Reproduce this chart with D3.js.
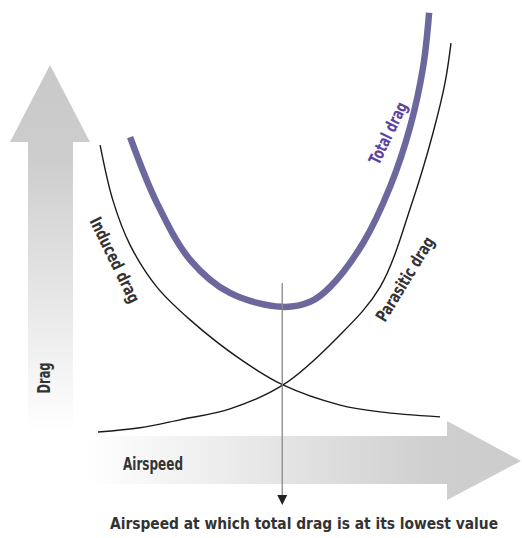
<!DOCTYPE html>
<html>
<head>
<meta charset="utf-8">
<script src="https://cdn.jsdelivr.net/npm/d3@7"></script>
<style>
  html, body { margin: 0; padding: 0; background: #fff; }
  svg { display: block; }
  text { font-family: "Liberation Sans Narrow", "DejaVu Sans Condensed", "Arial Narrow", sans-serif; font-weight: bold; }
</style>
</head>
<body>
<svg id="chart" width="522" height="538"></svg>
<script>
// ---- data (airspeed 0-100, drag 0-100, arbitrary units) ----
const inducedSpeed   = [0.6, 4.2, 9.1, 16.7, 26.1, 40.2, 52.4, 68.6, 79.9, 96.9];
const inducedDrag    = [68.3, 55.2, 44.5, 34.5, 26.7, 17.4, 11.2, 6.4, 4.8, 3.6];
const parasiticSpeed = [0, 11.9, 23.2, 37.4, 52.4, 67.7, 79.9, 89.2, 94.9, 98.3, 100];
const parasiticDrag  = [0, 1.0, 2.9, 5.5, 11.2, 22.4, 34.5, 55.2, 71.2, 83.1, 92.6];
const totalSpeed     = [9.1, 16.7, 26.1, 37.4, 52.1, 60.1, 65.7, 75.1, 82.7, 88.4, 92.1, 93.8];
const totalDrag      = [70.2, 54.5, 41.0, 33.1, 29.8, 31.0, 34.5, 45.0, 58.3, 72.6, 86.9, 99.8];
const minDragSpeed   = 52.2;
const minDragValue   = 35.5;
const labels = {
  x: "Airspeed",
  y: "Drag",
  induced: "Induced drag",
  parasitic: "Parasitic drag",
  total: "Total drag",
  min: "Airspeed at which total drag is at its lowest value"
};

const svg = d3.select("#chart");
const x = d3.scaleLinear().domain([0, 100]).range([98, 451]);
const y = d3.scaleLinear().domain([0, 100]).range([432, 12]);

const defs = svg.append("defs");
const gv = defs.append("linearGradient").attr("id", "gv")
  .attr("x1", 0).attr("y1", 0).attr("x2", 0).attr("y2", 1);
gv.append("stop").attr("offset", "0%").attr("stop-color", "#c9c9c9");
gv.append("stop").attr("offset", "25%").attr("stop-color", "#cdcdcd");
gv.append("stop").attr("offset", "100%").attr("stop-color", "#ffffff");
const gh = defs.append("linearGradient").attr("id", "gh")
  .attr("x1", 0).attr("y1", 0).attr("x2", 1).attr("y2", 0);
gh.append("stop").attr("offset", "0%").attr("stop-color", "#ffffff");
gh.append("stop").attr("offset", "80%").attr("stop-color", "#cfcfcf");
gh.append("stop").attr("offset", "100%").attr("stop-color", "#cccccc");

// vertical "Drag" arrow
svg.append("path")
  .attr("d", "M50,65 L90,142 L73,142 L73,432 L28,432 L28,142 L10,142 Z")
  .attr("fill", "url(#gv)");
// horizontal "Airspeed" arrow
svg.append("path")
  .attr("d", "M88,436 L447,436 L447,421 L521,461 L447,500 L447,484 L88,484 Z")
  .attr("fill", "url(#gh)");

const line = d3.line().x(d => x(d[0])).y(d => y(d[1])).curve(d3.curveCatmullRom.alpha(0.5));

svg.append("path").datum(d3.zip(inducedSpeed, inducedDrag))
  .attr("d", line).attr("fill", "none").attr("stroke", "#1a1a1a").attr("stroke-width", 1.4);
svg.append("path").datum(d3.zip(parasiticSpeed, parasiticDrag))
  .attr("d", line).attr("fill", "none").attr("stroke", "#1a1a1a").attr("stroke-width", 1.4);
svg.append("path").datum(d3.zip(totalSpeed, totalDrag))
  .attr("d", line).attr("fill", "none").attr("stroke", "#6c689e").attr("stroke-width", 6.5);

// minimum-drag speed marker
const mx = x(minDragSpeed);
svg.append("line").attr("x1", mx).attr("x2", mx)
  .attr("y1", y(minDragValue)).attr("y2", 496)
  .attr("stroke", "#8a8a8a").attr("stroke-width", 1.3);
svg.append("path")
  .attr("d", `M${mx - 5},495 L${mx + 5},495 L${mx},505 Z`)
  .attr("fill", "#222");

// labels
function label(txt, cx, cy, angle, len, size, color, central) {
  svg.append("text")
    .attr("transform", `translate(${cx},${cy}) rotate(${angle})`)
    .attr("text-anchor", "middle")
    .attr("dominant-baseline", central ? "central" : "auto")
    .attr("font-size", size)
    .attr("fill", color)
    .attr("textLength", len)
    .attr("lengthAdjust", "spacingAndGlyphs")
    .text(txt);
}
label(labels.y, 44, 378, -90, 31, 17, "#333", true);
label(labels.x, 153, 470, 0, 60, 18, "#333", false);
label(labels.induced, 115, 260, 64, 93, 17, "#333", true);
label(labels.parasitic, 405, 279, -58.6, 96, 17, "#333", true);
label(labels.total, 388, 133, -64, 67, 17, "#5a44a0", true);
label(labels.min, 304, 529, 0, 388, 16, "#333", false);
</script>
</body>
</html>
